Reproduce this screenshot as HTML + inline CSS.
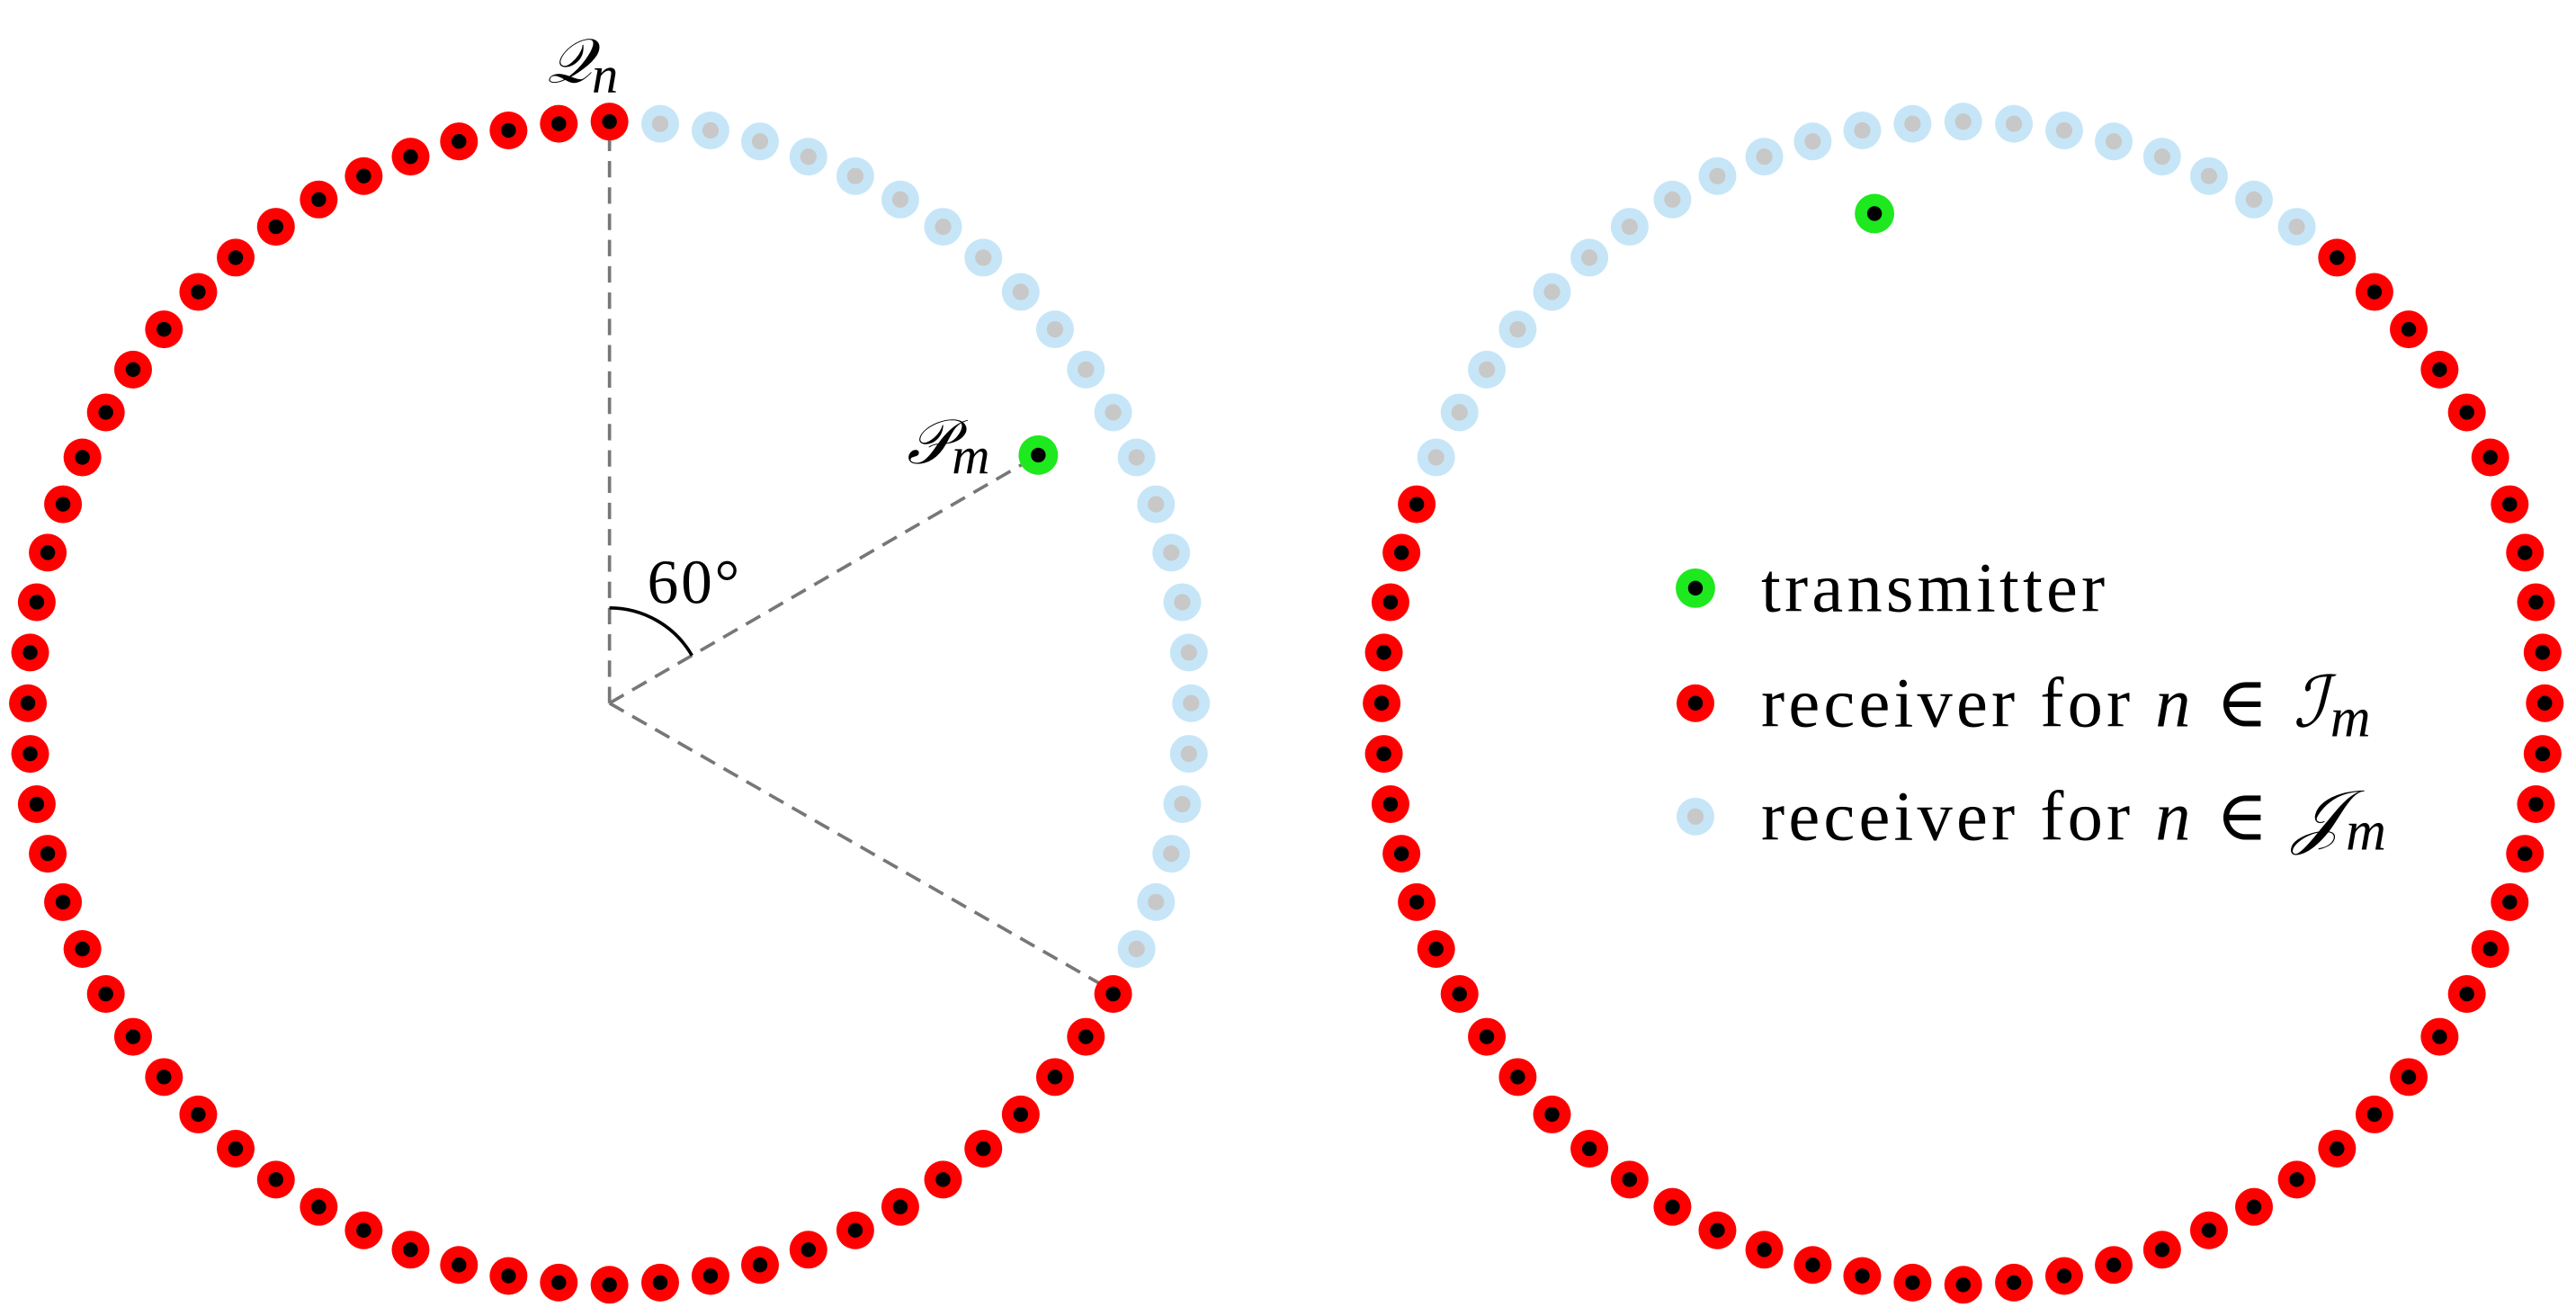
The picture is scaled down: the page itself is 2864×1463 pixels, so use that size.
<!DOCTYPE html>
<html><head><meta charset="utf-8">
<style>
html,body{margin:0;padding:0;background:#fff;}
svg{display:block;}
text{font-family:"Liberation Serif","DejaVu Serif",serif;fill:#000;}
</style></head>
<body>
<svg id="s" width="2864" height="1463" viewBox="0 0 1568 801" preserveAspectRatio="none" xmlns="http://www.w3.org/2000/svg">
<rect width="1568" height="801" fill="#fff"/>
<g stroke="#777" stroke-width="2" stroke-dasharray="10,6" fill="none">
<line x1="371" y1="428" x2="371" y2="74"/>
<line x1="371" y1="428" x2="632" y2="277"/>
<line x1="371" y1="428" x2="677" y2="603"/>
</g>
<path d="M371,370 A58,58 0 0 1 421.2,399" stroke="#000" stroke-width="2" fill="none"/>
<g id="dots"></g>
<text x="333" y="50" font-size="38" font-style="italic">𝒬<tspan font-size="32" dy="6">n</tspan></text>
<text x="552" y="282" font-size="38" font-style="italic">𝒫<tspan font-size="32" dy="6">m</tspan></text>
<text x="394" y="367" font-size="38" letter-spacing="1.5">60°</text>
<g font-size="43" letter-spacing="2.3">
<text x="1072" y="372">transmitter</text>
<text x="1072" y="442">receiver for <tspan font-style="italic">n</tspan> ∈ <tspan font-style="italic">ℐ</tspan><tspan font-style="italic" font-size="34" dy="6">m</tspan></text>
<text x="1072" y="511">receiver for <tspan font-style="italic">n</tspan> ∈ <tspan font-style="italic">𝒥</tspan><tspan font-style="italic" font-size="34" dy="6">m</tspan></text>
</g>
</svg>
<script>
(function(){
var g=document.getElementById('dots'),h='';
function dot(x,y,t){
 if(t=='r')h+='<circle cx="'+x+'" cy="'+y+'" r="11.5" fill="#f00"/><circle cx="'+x+'" cy="'+y+'" r="4.5" fill="#000"/>';
 else if(t=='b')h+='<circle cx="'+x+'" cy="'+y+'" r="11.5" fill="#c6e6f8"/><circle cx="'+x+'" cy="'+y+'" r="5" fill="#c8c8c8"/>';
 else h+='<circle cx="'+x+'" cy="'+y+'" r="12" fill="#1ee81e"/><circle cx="'+x+'" cy="'+y+'" r="4.5" fill="#000"/>';
}
var R=354;
function circ(cx,cy,isBlue){
 for(var i=0;i<72;i++){var a=i*5,r=a*Math.PI/180;
  dot(cx+R*Math.sin(r),cy-R*Math.cos(r),isBlue(a)?'b':'r');}
}
circ(371,428,function(a){return a>=5&&a<=115;});
circ(1195,428,function(a){return a>=295||a<=35;});
dot(632,277,'g');
dot(1141,130,'g');
dot(1032,358,'g');dot(1032,428,'r');dot(1032,497,'b');
g.innerHTML=h;
})();
</script>
</body></html>
